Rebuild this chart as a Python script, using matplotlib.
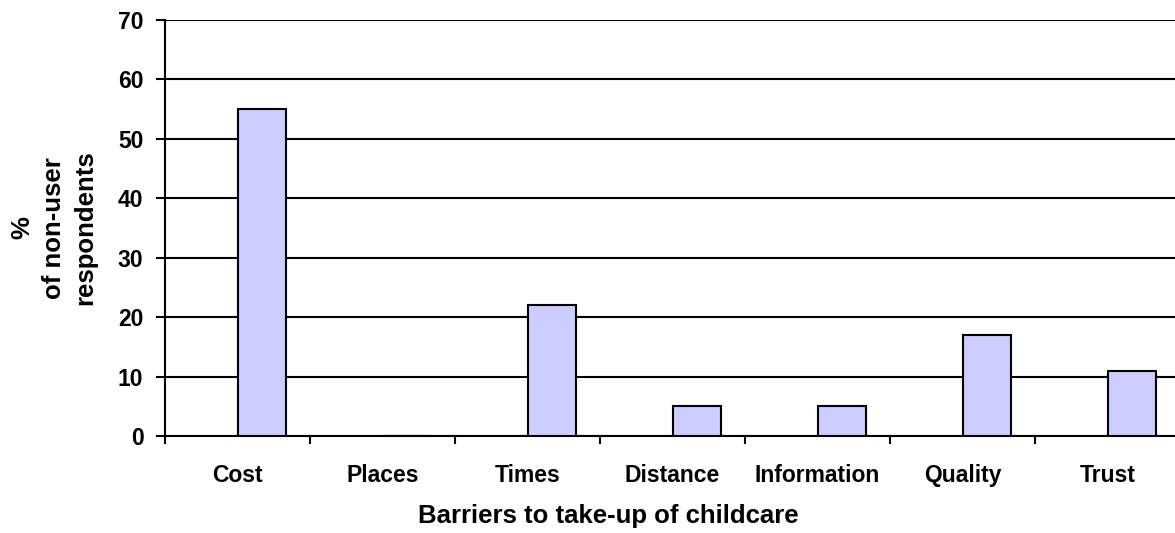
import numpy as np
import matplotlib.pyplot as plt

# Barriers to take-up of childcare, % of non-user respondents
categories = ["Cost", "Places", "Times", "Distance", "Information", "Quality", "Trust"]
percent = [55, 0, 22, 5, 5, 17, 11]
y_ticks = [0, 10, 20, 30, 40, 50, 60, 70]

plt.rcParams["font.family"] = ["Liberation Sans", "DejaVu Sans"]
plt.rcParams["font.weight"] = "bold"

W, H = 1175, 533
fig = plt.figure(figsize=(W / 100, H / 100), dpi=100)
# plot area in pixels: left 165, right 1180 (runs off the picture), top 20, bottom 436
ax = fig.add_axes([165 / W, 1 - 436 / H, 1015 / W, 416 / H])

x = np.arange(len(categories))
# bar sits in the right half of the category slot (empty first series in the original)
ax.bar(x, percent, width=1 / 3, align="edge", color="#CCCCFF",
       edgecolor="black", linewidth=1.5, zorder=3)

ax.set_xlim(-0.5, len(categories) - 0.5)
ax.set_ylim(0, 70)
ax.set_yticks(y_ticks)
ax.yaxis.grid(True, color="black", linewidth=1.5, zorder=0)
ax.set_axisbelow(True)

# category dividers as major ticks, names on minor ticks
ax.set_xticks(np.arange(-0.5, len(categories)))
ax.set_xticklabels([])
ax.set_xticks(x, minor=True)
ax.set_xticklabels(categories, minor=True, fontsize=16.5, fontweight="bold")
ax.tick_params(axis="x", which="major", direction="out", length=6, width=1.5)
ax.tick_params(axis="x", which="minor", length=0, pad=20)
ax.tick_params(axis="y", direction="out", length=6.5, width=1.5, pad=9, labelsize=16.5)
for lab in ax.get_yticklabels():
    lab.set_fontweight("bold")

for side in ["top", "right"]:
    ax.spines[side].set_visible(False)
for side in ["left", "bottom"]:
    ax.spines[side].set_linewidth(1.5)

ax.set_xlabel("Barriers to take-up of childcare", fontsize=18.5, fontweight="bold")
ax.xaxis.set_label_coords((608 - 165) / 1015, (436 - 504) / 416)

fig.text(54 / W, 1 - 228 / H, "%\nof non-user\nrespondents", rotation=90,
         ha="center", va="center", multialignment="center",
         fontsize=18.5, fontweight="bold", linespacing=1.4)

fig.savefig("out.png", dpi=100)
